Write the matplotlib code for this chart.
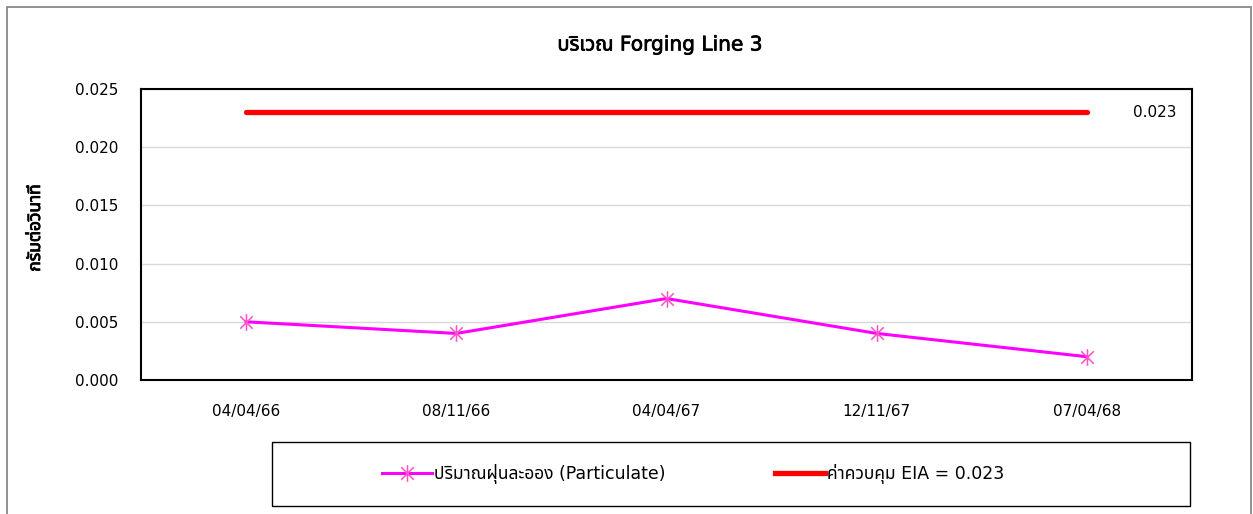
import matplotlib
matplotlib.use("Agg")
import matplotlib.pyplot as plt
from matplotlib import font_manager
from matplotlib.path import Path
from matplotlib.patches import Rectangle
from matplotlib.lines import Line2D
import matplotlib.patheffects as pe

# ---------------- data ----------------
dates = ["04/04/66", "08/11/66", "04/04/67", "12/11/67", "07/04/68"]
particulate = [0.005, 0.004, 0.007, 0.004, 0.002]
limit_value = 0.023
limit = [limit_value] * len(dates)
title = "บริเวณ Forging Line 3"
ylabel = "กรัมต่อวินาที"
series_label = "ปริมาณฝุ่นละออง (Particulate)"
limit_label = "ค่าควบคุม EIA = 0.023"
yticks = [0.000, 0.005, 0.010, 0.015, 0.020, 0.025]

# ---------------- fonts ----------------
def find_thai_font():
    try:
        from fontTools.ttLib import TTFont
    except Exception:
        return None
    found = []
    for f in font_manager.fontManager.ttflist:
        try:
            tt = TTFont(f.fname, fontNumber=0, lazy=True)
            cmap = tt.getBestCmap()
            if cmap and 0x0E1A in cmap and 0x0E34 in cmap:
                found.append(f.name)
        except Exception:
            pass
    pref = ["Noto Sans Thai", "Noto Sans Thai UI", "Noto Sans", "Tahoma", "Loma", "Garuda"]
    for p in pref:
        if p in found:
            return p
    return found[0] if found else None

thai = find_thai_font()
fams = ["DejaVu Sans"]
if thai:
    fams = ["DejaVu Sans", thai]
plt.rcParams["font.family"] = fams

# ---------------- figure ----------------
W, H = 1253, 514
fig = plt.figure(figsize=(W / 100, H / 100), dpi=100)
ax = fig.add_axes([141 / W, 1 - 380 / H, (1192 - 141) / W, (380 - 89) / H])

x = list(range(len(dates)))

# star marker: vertical line + X
star = Path([(0, -1), (0, 1), (-0.75, -0.75), (0.75, 0.75), (-0.75, 0.75), (0.75, -0.75)],
            [Path.MOVETO, Path.LINETO, Path.MOVETO, Path.LINETO, Path.MOVETO, Path.LINETO])

ax.plot(x, limit, color="#FF0000", lw=3.8, solid_capstyle="round", zorder=3)
ax.plot(x, particulate, color="#FF00FF", lw=2.2, zorder=4)
ax.plot(x, particulate, ls="none", marker=star, ms=12, mec="#FF50C8", mew=1.1, zorder=5)

ax.text(x[-1] + 0.22, limit_value, "0.023", ha="left", va="center", fontsize=11)

ax.set_xlim(-0.5, len(dates) - 0.5)
ax.set_ylim(0, 0.025)
ax.set_yticks(yticks)
ax.set_yticklabels([f"{v:.3f}" for v in yticks], fontsize=11)
ax.set_xticks(x)
ax.set_xticklabels(dates, fontsize=11)
ax.tick_params(axis="both", length=0)
ax.tick_params(axis="y", pad=16)
ax.tick_params(axis="x", pad=17)
ax.grid(axis="y", color="#D9D9D9", lw=1)
ax.set_axisbelow(True)
for s in ax.spines.values():
    s.set_color("black")
    s.set_linewidth(1.5)

fig.text(660 / W, 1 - 45 / H, title, ha="center", va="center", fontsize=14.5,
         path_effects=[pe.withStroke(linewidth=0.5, foreground="black")])
fig.text(35 / W, 1 - 228 / H, ylabel, ha="center", va="center", rotation=90, fontsize=12.5,
         path_effects=[pe.withStroke(linewidth=0.6, foreground="black")])

# outer chart border
fig.patches.append(Rectangle((7 / W, -0.05), (1251 - 7) / W, (1 - 7 / H) + 0.05,
                             transform=fig.transFigure, fill=False, ec="#7F7F7F", lw=1.2))
# legend box
fig.patches.append(Rectangle((272 / W, 1 - 506 / H), (1190 - 272) / W, (506 - 442) / H,
                             transform=fig.transFigure, fill=False, ec="black", lw=1.0))

h1 = Line2D([], [], color="#FF00FF", lw=2.2, marker=star, ms=12, mec="#FF50C8", mew=1.1)
h2 = Line2D([], [], color="#FF0000", lw=3.8)
fig.legend([h1, h2], [series_label, limit_label], loc="center left",
           bbox_to_anchor=(366 / W, 1 - 474 / H), ncol=2, frameon=False, fontsize=12.5,
           handlelength=2.9, handletextpad=0.12, columnspacing=6.3)

fig.savefig("out.png", dpi=100)
